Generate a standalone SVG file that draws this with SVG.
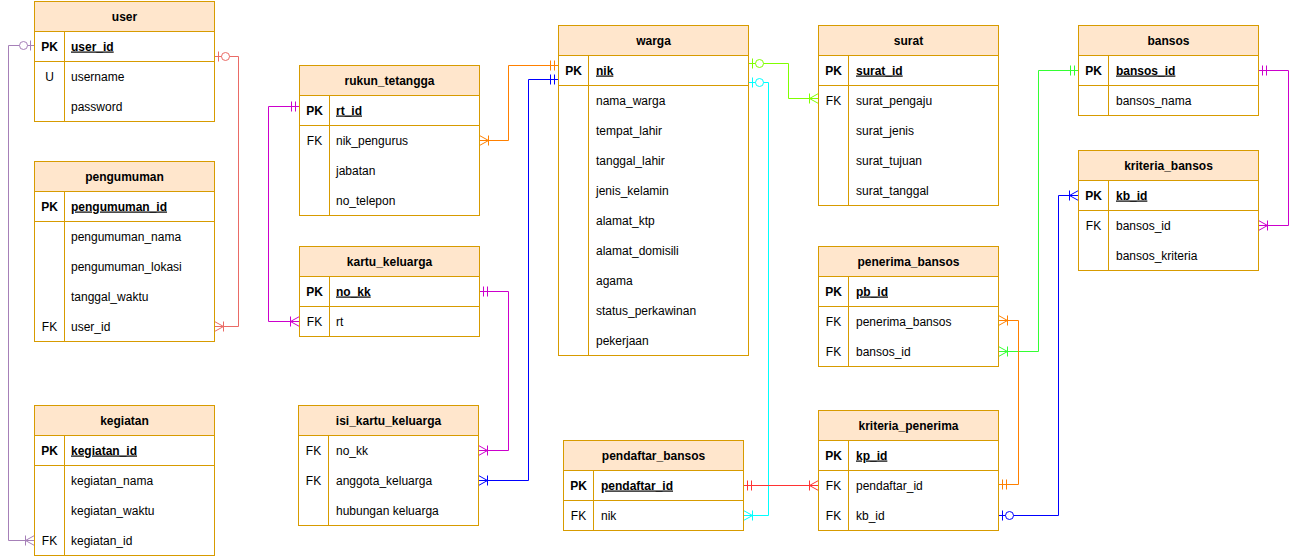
<svg xmlns="http://www.w3.org/2000/svg" width="1298" height="557" viewBox="0 0 1298 557">
<style>
.tb{fill:#fff;stroke:#d79b00;stroke-width:1}
.hd{fill:#ffe6cc;stroke:#d79b00;stroke-width:1}
.ln{stroke:#d79b00;stroke-width:1;fill:none}
text{font-family:"Liberation Sans",Arial,sans-serif;font-size:12px;fill:#000}
.h{font-weight:bold;text-anchor:middle}
.k{text-anchor:middle}
.kb{font-weight:bold;text-anchor:middle}
.pk{font-weight:bold;text-decoration:underline}
.c{fill:none;stroke-width:1}
</style>
<defs>
<marker id="zo-red" viewBox="-20 -10 24 20" refX="0" refY="0" markerWidth="24" markerHeight="20" markerUnits="userSpaceOnUse" orient="auto-start-reverse"><path d="M-4,-5V5" stroke="#EA6B66" fill="none"/><circle cx="-11" cy="0" r="4" fill="#fff" stroke="#EA6B66"/></marker>
<marker id="zo-pur" viewBox="-20 -10 24 20" refX="0" refY="0" markerWidth="24" markerHeight="20" markerUnits="userSpaceOnUse" orient="auto-start-reverse"><path d="M-4,-5V5" stroke="#A680B8" fill="none"/><circle cx="-11" cy="0" r="4" fill="#fff" stroke="#A680B8"/></marker>
<marker id="zo-lg" viewBox="-20 -10 24 20" refX="0" refY="0" markerWidth="24" markerHeight="20" markerUnits="userSpaceOnUse" orient="auto-start-reverse"><path d="M-4,-5V5" stroke="#80FF00" fill="none"/><circle cx="-11" cy="0" r="4" fill="#fff" stroke="#80FF00"/></marker>
<marker id="zo-cy" viewBox="-20 -10 24 20" refX="0" refY="0" markerWidth="24" markerHeight="20" markerUnits="userSpaceOnUse" orient="auto-start-reverse"><path d="M-4,-5V5" stroke="#00FFFF" fill="none"/><circle cx="-11" cy="0" r="4" fill="#fff" stroke="#00FFFF"/></marker>
<marker id="zo-bl" viewBox="-20 -10 24 20" refX="0" refY="0" markerWidth="24" markerHeight="20" markerUnits="userSpaceOnUse" orient="auto-start-reverse"><path d="M-4,-5V5" stroke="#0000FF" fill="none"/><circle cx="-11" cy="0" r="4" fill="#fff" stroke="#0000FF"/></marker>
<marker id="mo-mg" viewBox="-20 -10 24 20" refX="0" refY="0" markerWidth="24" markerHeight="20" markerUnits="userSpaceOnUse" orient="auto-start-reverse"><path d="M-4,-5V5M-8,-5V5" stroke="#CC00CC" fill="none"/></marker>
<marker id="mo-or" viewBox="-20 -10 24 20" refX="0" refY="0" markerWidth="24" markerHeight="20" markerUnits="userSpaceOnUse" orient="auto-start-reverse"><path d="M-4,-5V5M-8,-5V5" stroke="#FF8000" fill="none"/></marker>
<marker id="mo-bl" viewBox="-20 -10 24 20" refX="0" refY="0" markerWidth="24" markerHeight="20" markerUnits="userSpaceOnUse" orient="auto-start-reverse"><path d="M-4,-5V5M-8,-5V5" stroke="#0000FF" fill="none"/></marker>
<marker id="mo-rd" viewBox="-20 -10 24 20" refX="0" refY="0" markerWidth="24" markerHeight="20" markerUnits="userSpaceOnUse" orient="auto-start-reverse"><path d="M-4,-5V5M-8,-5V5" stroke="#FF3333" fill="none"/></marker>
<marker id="mo-gr" viewBox="-20 -10 24 20" refX="0" refY="0" markerWidth="24" markerHeight="20" markerUnits="userSpaceOnUse" orient="auto-start-reverse"><path d="M-4,-5V5M-8,-5V5" stroke="#33FF33" fill="none"/></marker>
<marker id="cb-red" viewBox="-20 -10 24 20" refX="0" refY="0" markerWidth="24" markerHeight="20" markerUnits="userSpaceOnUse" orient="auto-start-reverse"><path d="M0,-5L-9,0L0,5M-9,-5V5" stroke="#EA6B66" fill="none"/></marker>
<marker id="cb-pur" viewBox="-20 -10 24 20" refX="0" refY="0" markerWidth="24" markerHeight="20" markerUnits="userSpaceOnUse" orient="auto-start-reverse"><path d="M0,-5L-9,0L0,5M-9,-5V5" stroke="#A680B8" fill="none"/></marker>
<marker id="cb-mg" viewBox="-20 -10 24 20" refX="0" refY="0" markerWidth="24" markerHeight="20" markerUnits="userSpaceOnUse" orient="auto-start-reverse"><path d="M0,-5L-9,0L0,5M-9,-5V5" stroke="#CC00CC" fill="none"/></marker>
<marker id="cb-or" viewBox="-20 -10 24 20" refX="0" refY="0" markerWidth="24" markerHeight="20" markerUnits="userSpaceOnUse" orient="auto-start-reverse"><path d="M0,-5L-9,0L0,5M-9,-5V5" stroke="#FF8000" fill="none"/></marker>
<marker id="cb-bl" viewBox="-20 -10 24 20" refX="0" refY="0" markerWidth="24" markerHeight="20" markerUnits="userSpaceOnUse" orient="auto-start-reverse"><path d="M0,-5L-9,0L0,5M-9,-5V5" stroke="#0000FF" fill="none"/></marker>
<marker id="cb-lg" viewBox="-20 -10 24 20" refX="0" refY="0" markerWidth="24" markerHeight="20" markerUnits="userSpaceOnUse" orient="auto-start-reverse"><path d="M0,-5L-9,0L0,5M-9,-5V5" stroke="#80FF00" fill="none"/></marker>
<marker id="cb-cy" viewBox="-20 -10 24 20" refX="0" refY="0" markerWidth="24" markerHeight="20" markerUnits="userSpaceOnUse" orient="auto-start-reverse"><path d="M0,-5L-9,0L0,5M-9,-5V5" stroke="#00FFFF" fill="none"/></marker>
<marker id="cb-rd" viewBox="-20 -10 24 20" refX="0" refY="0" markerWidth="24" markerHeight="20" markerUnits="userSpaceOnUse" orient="auto-start-reverse"><path d="M0,-5L-9,0L0,5M-9,-5V5" stroke="#FF3333" fill="none"/></marker>
<marker id="cb-gr" viewBox="-20 -10 24 20" refX="0" refY="0" markerWidth="24" markerHeight="20" markerUnits="userSpaceOnUse" orient="auto-start-reverse"><path d="M0,-5L-9,0L0,5M-9,-5V5" stroke="#33FF33" fill="none"/></marker>
</defs>
<rect width="1298" height="557" fill="#fff"/>

<g id="connectors">
<path class="c" stroke="#EA6B66" d="M214.5,56.5H238.5V326.5H214.5" marker-start="url(#zo-red)" marker-end="url(#cb-red)"/>
<path class="c" stroke="#A680B8" d="M34.5,45.5H8.5V540.5H34.5" marker-start="url(#zo-pur)" marker-end="url(#cb-pur)"/>
<path class="c" stroke="#CC00CC" d="M299.5,106.5H268.5V321.5H299.5" marker-start="url(#mo-mg)" marker-end="url(#cb-mg)"/>
<path class="c" stroke="#FF8000" d="M558.5,65.5H508.5V140.5H479.5" marker-start="url(#mo-or)" marker-end="url(#cb-or)"/>
<path class="c" stroke="#0000FF" d="M558.5,79.5H528.5V480.5H478.5" marker-start="url(#mo-bl)" marker-end="url(#cb-bl)"/>
<path class="c" stroke="#CC00CC" d="M479.5,291.5H508.5V450.5H478.5" marker-start="url(#mo-mg)" marker-end="url(#cb-mg)"/>
<path class="c" stroke="#80FF00" d="M748.5,63.5H788.5V98.5H818.5" marker-start="url(#zo-lg)" marker-end="url(#cb-lg)"/>
<path class="c" stroke="#00FFFF" d="M748.5,82.5H768.5V515.5H743.5" marker-start="url(#zo-cy)" marker-end="url(#cb-cy)"/>
<path class="c" stroke="#FF3333" d="M743.5,485.5H818.5" marker-start="url(#mo-rd)" marker-end="url(#cb-rd)"/>
<path class="c" stroke="#CC00CC" d="M1258.5,70.5H1288.5V225.5H1258.5" marker-start="url(#mo-mg)" marker-end="url(#cb-mg)"/>
<path class="c" stroke="#33FF33" d="M1078.5,70.5H1038.5V351.5H998.5" marker-start="url(#mo-gr)" marker-end="url(#cb-gr)"/>
<path class="c" stroke="#FF8000" d="M998.5,484.5H1018.5V320.5H998.5" marker-start="url(#mo-or)" marker-end="url(#cb-or)"/>
<path class="c" stroke="#0000FF" d="M998.5,515.5H1058.5V195.5H1078.5" marker-start="url(#zo-bl)" marker-end="url(#cb-bl)"/>
</g>

<g id="user">
<rect class="tb" x="34.5" y="1.5" width="180" height="120"/>
<rect class="hd" x="34.5" y="1.5" width="180" height="30"/>
<path class="ln" d="M34.5,61.5H214.5M64.5,31.5V121.5"/>
<text class="h" x="124.5" y="20.5">user</text>
<text class="kb" x="49.5" y="50.5">PK</text><text class="pk" x="71" y="50.5">user_id</text>
<text class="k" x="49.5" y="80.5">U</text><text x="71" y="80.5">username</text>
<text x="71" y="110.5">password</text>
</g>

<g id="pengumuman">
<rect class="tb" x="34.5" y="161.5" width="180" height="180"/>
<rect class="hd" x="34.5" y="161.5" width="180" height="30"/>
<path class="ln" d="M34.5,221.5H214.5M64.5,191.5V341.5"/>
<text class="h" x="124.5" y="180.5">pengumuman</text>
<text class="kb" x="49.5" y="210.5">PK</text><text class="pk" x="71" y="210.5">pengumuman_id</text>
<text x="71" y="240.5">pengumuman_nama</text>
<text x="71" y="270.5">pengumuman_lokasi</text>
<text x="71" y="300.5">tanggal_waktu</text>
<text class="k" x="49.5" y="330.5">FK</text><text x="71" y="330.5">user_id</text>
</g>

<g id="kegiatan">
<rect class="tb" x="34.5" y="405.5" width="180" height="150"/>
<rect class="hd" x="34.5" y="405.5" width="180" height="30"/>
<path class="ln" d="M34.5,465.5H214.5M64.5,435.5V555.5"/>
<text class="h" x="124.5" y="424.5">kegiatan</text>
<text class="kb" x="49.5" y="454.5">PK</text><text class="pk" x="71" y="454.5">kegiatan_id</text>
<text x="71" y="484.5">kegiatan_nama</text>
<text x="71" y="514.5">kegiatan_waktu</text>
<text class="k" x="49.5" y="544.5">FK</text><text x="71" y="544.5">kegiatan_id</text>
</g>

<g id="rukun_tetangga">
<rect class="tb" x="299.5" y="65.5" width="180" height="150"/>
<rect class="hd" x="299.5" y="65.5" width="180" height="30"/>
<path class="ln" d="M299.5,125.5H479.5M329.5,95.5V215.5"/>
<text class="h" x="389.5" y="84.5">rukun_tetangga</text>
<text class="kb" x="314.5" y="114.5">PK</text><text class="pk" x="336" y="114.5">rt_id</text>
<text class="k" x="314.5" y="144.5">FK</text><text x="336" y="144.5">nik_pengurus</text>
<text x="336" y="174.5">jabatan</text>
<text x="336" y="204.5">no_telepon</text>
</g>

<g id="kartu_keluarga">
<rect class="tb" x="299.5" y="246.5" width="180" height="90"/>
<rect class="hd" x="299.5" y="246.5" width="180" height="30"/>
<path class="ln" d="M299.5,306.5H479.5M329.5,276.5V336.5"/>
<text class="h" x="389.5" y="265.5">kartu_keluarga</text>
<text class="kb" x="314.5" y="295.5">PK</text><text class="pk" x="336" y="295.5">no_kk</text>
<text class="k" x="314.5" y="325.5">FK</text><text x="336" y="325.5">rt</text>
</g>

<g id="isi_kartu_keluarga">
<rect class="tb" x="298.5" y="405.5" width="180" height="120"/>
<rect class="hd" x="298.5" y="405.5" width="180" height="30"/>
<path class="ln" d="M328.5,435.5V525.5"/>
<text class="h" x="388.5" y="424.5">isi_kartu_keluarga</text>
<text class="k" x="313.5" y="454.5">FK</text><text x="336" y="454.5">no_kk</text>
<text class="k" x="313.5" y="484.5">FK</text><text x="336" y="484.5">anggota_keluarga</text>
<text x="336" y="514.5">hubungan keluarga</text>
</g>

<g id="warga">
<rect class="tb" x="558.5" y="25.5" width="190" height="330"/>
<rect class="hd" x="558.5" y="25.5" width="190" height="30"/>
<path class="ln" d="M558.5,85.5H748.5M588.5,55.5V355.5"/>
<text class="h" x="653.5" y="44.5">warga</text>
<text class="kb" x="573.5" y="74.5">PK</text><text class="pk" x="596" y="74.5">nik</text>
<text x="596" y="104.5">nama_warga</text>
<text x="596" y="134.5">tempat_lahir</text>
<text x="596" y="164.5">tanggal_lahir</text>
<text x="596" y="194.5">jenis_kelamin</text>
<text x="596" y="224.5">alamat_ktp</text>
<text x="596" y="254.5">alamat_domisili</text>
<text x="596" y="284.5">agama</text>
<text x="596" y="314.5">status_perkawinan</text>
<text x="596" y="344.5">pekerjaan</text>
</g>

<g id="surat">
<rect class="tb" x="818.5" y="25.5" width="180" height="180"/>
<rect class="hd" x="818.5" y="25.5" width="180" height="30"/>
<path class="ln" d="M818.5,85.5H998.5M848.5,55.5V205.5"/>
<text class="h" x="908.5" y="44.5">surat</text>
<text class="kb" x="833.5" y="74.5">PK</text><text class="pk" x="856" y="74.5">surat_id</text>
<text class="k" x="833.5" y="104.5">FK</text><text x="856" y="104.5">surat_pengaju</text>
<text x="856" y="134.5">surat_jenis</text>
<text x="856" y="164.5">surat_tujuan</text>
<text x="856" y="194.5">surat_tanggal</text>
</g>

<g id="bansos">
<rect class="tb" x="1078.5" y="25.5" width="180" height="90"/>
<rect class="hd" x="1078.5" y="25.5" width="180" height="30"/>
<path class="ln" d="M1078.5,85.5H1258.5M1108.5,55.5V115.5"/>
<text class="h" x="1168.5" y="44.5">bansos</text>
<text class="kb" x="1093.5" y="74.5">PK</text><text class="pk" x="1116" y="74.5">bansos_id</text>
<text x="1116" y="104.5">bansos_nama</text>
</g>

<g id="kriteria_bansos">
<rect class="tb" x="1078.5" y="150.5" width="180" height="120"/>
<rect class="hd" x="1078.5" y="150.5" width="180" height="30"/>
<path class="ln" d="M1078.5,210.5H1258.5M1108.5,180.5V270.5"/>
<text class="h" x="1168.5" y="169.5">kriteria_bansos</text>
<text class="kb" x="1093.5" y="199.5">PK</text><text class="pk" x="1116" y="199.5">kb_id</text>
<text class="k" x="1093.5" y="229.5">FK</text><text x="1116" y="229.5">bansos_id</text>
<text x="1116" y="259.5">bansos_kriteria</text>
</g>

<g id="penerima_bansos">
<rect class="tb" x="818.5" y="246.5" width="180" height="120"/>
<rect class="hd" x="818.5" y="246.5" width="180" height="30"/>
<path class="ln" d="M818.5,306.5H998.5M848.5,276.5V366.5"/>
<text class="h" x="908.5" y="265.5">penerima_bansos</text>
<text class="kb" x="833.5" y="295.5">PK</text><text class="pk" x="856" y="295.5">pb_id</text>
<text class="k" x="833.5" y="325.5">FK</text><text x="856" y="325.5">penerima_bansos</text>
<text class="k" x="833.5" y="355.5">FK</text><text x="856" y="355.5">bansos_id</text>
</g>

<g id="kriteria_penerima">
<rect class="tb" x="818.5" y="410.5" width="180" height="120"/>
<rect class="hd" x="818.5" y="410.5" width="180" height="30"/>
<path class="ln" d="M818.5,470.5H998.5M848.5,440.5V530.5"/>
<text class="h" x="908.5" y="429.5">kriteria_penerima</text>
<text class="kb" x="833.5" y="459.5">PK</text><text class="pk" x="856" y="459.5">kp_id</text>
<text class="k" x="833.5" y="489.5">FK</text><text x="856" y="489.5">pendaftar_id</text>
<text class="k" x="833.5" y="519.5">FK</text><text x="856" y="519.5">kb_id</text>
</g>

<g id="pendaftar_bansos">
<rect class="tb" x="563.5" y="440.5" width="180" height="90"/>
<rect class="hd" x="563.5" y="440.5" width="180" height="30"/>
<path class="ln" d="M563.5,500.5H743.5M593.5,470.5V530.5"/>
<text class="h" x="653.5" y="459.5">pendaftar_bansos</text>
<text class="kb" x="578.5" y="489.5">PK</text><text class="pk" x="601" y="489.5">pendaftar_id</text>
<text class="k" x="578.5" y="519.5">FK</text><text x="601" y="519.5">nik</text>
</g>
</svg>
